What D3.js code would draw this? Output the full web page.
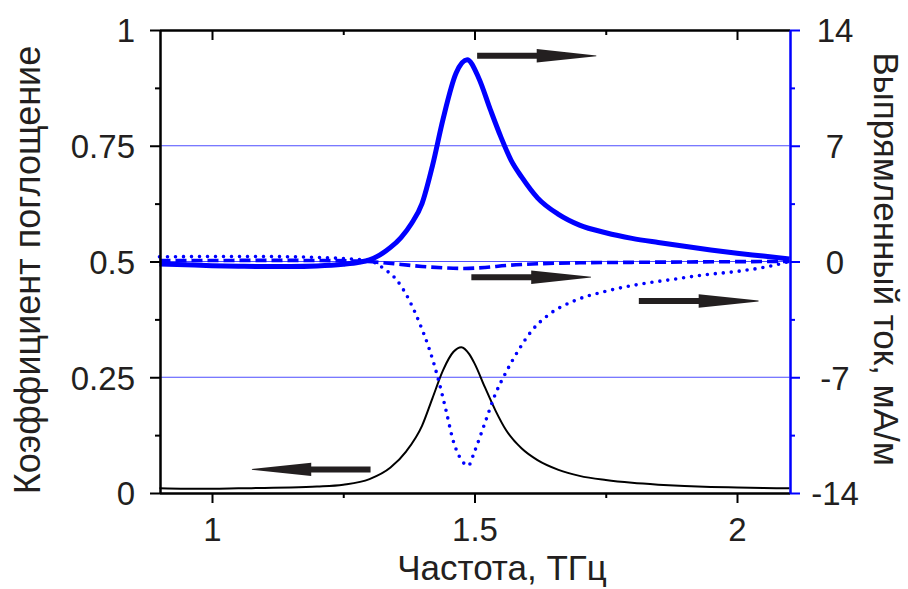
<!DOCTYPE html>
<html>
<head>
<meta charset="utf-8">
<script src="https://cdn.jsdelivr.net/npm/d3@7"></script>
<style>
  html, body { margin: 0; padding: 0; background: #fff; }
  svg { display: block; }
  text { font-family: "Liberation Sans", Arial, sans-serif; fill: #231f20; }
</style>
</head>
<body>
<svg id="chart" width="908" height="589"></svg>
<script>
// ---- Absorption coefficient (left axis) ----
const absFreq  = [0.9, 0.95, 1.0, 1.05, 1.1, 1.15, 1.2, 1.25, 1.3, 1.34, 1.37, 1.40, 1.42, 1.44, 1.46, 1.475,
                  1.49, 1.50, 1.52, 1.54, 1.56, 1.59, 1.62, 1.66, 1.70, 1.75, 1.80, 1.85, 1.90, 1.95, 2.0, 2.05, 2.1];
const absValue = [0.010, 0.009, 0.009, 0.010, 0.011, 0.012, 0.014, 0.018, 0.030, 0.055, 0.09, 0.145, 0.205, 0.265, 0.305, 0.315,
                  0.300, 0.280, 0.228, 0.178, 0.136, 0.096, 0.071, 0.050, 0.037, 0.028, 0.022, 0.018, 0.015, 0.013, 0.012, 0.011, 0.010];

// ---- Rectified current, mA/m (right axis) ----
const solidFreq  = [0.9, 0.95, 1.0, 1.05, 1.1, 1.15, 1.2, 1.25, 1.28, 1.30, 1.32, 1.34, 1.36, 1.38, 1.40, 1.42, 1.44, 1.465, 1.486,
                    1.508, 1.53, 1.55, 1.57, 1.59, 1.62, 1.66, 1.70, 1.75, 1.80, 1.85, 1.90, 1.95, 2.0, 2.05, 2.1];
const solidValue = [-0.15, -0.2, -0.25, -0.28, -0.3, -0.3, -0.27, -0.17, -0.05, 0.1, 0.4, 0.85, 1.45, 2.3, 3.5, 5.8, 8.6, 11.4, 12.2,
                    11.1, 9.2, 7.55, 6.1, 5.1, 3.85, 2.85, 2.2, 1.74, 1.4, 1.15, 0.92, 0.7, 0.5, 0.33, 0.15];

const dashFreq  = [0.9, 1.0, 1.1, 1.2, 1.28, 1.32, 1.36, 1.40, 1.44, 1.48, 1.52, 1.56, 1.62, 1.70, 1.80, 1.90, 2.0, 2.1];
const dashValue = [0.05, 0.06, 0.07, 0.06, 0.02, -0.06, -0.18, -0.3, -0.38, -0.42, -0.36, -0.24, -0.14, -0.08, -0.05, -0.03, -0.01, 0.0];

const dotFreq  = [0.9, 1.0, 1.1, 1.2, 1.26, 1.30, 1.33, 1.35, 1.375, 1.395, 1.415, 1.43, 1.445, 1.46, 1.475, 1.488, 1.50, 1.52, 1.54,
                  1.56, 1.585, 1.61, 1.64, 1.69, 1.75, 1.81, 1.88, 1.94, 2.0, 2.06, 2.1];
const dotValue = [0.28, 0.3, 0.3, 0.25, 0.16, 0.05, -0.5, -1.05, -2.3, -3.7, -5.4, -7.0, -8.9, -10.9, -12.0, -12.35, -11.5, -9.75, -8.0,
                  -6.7, -5.3, -4.15, -3.25, -2.38, -1.8, -1.4, -1.07, -0.8, -0.6, -0.3, 0.0];

// ---- Axis ticks ----
const xMajorTicks = [1, 1.5, 2];
const xMinorTicks = [1.25, 1.75];
const leftMajorTicks = [0, 0.25, 0.5, 0.75, 1];
const leftMinorTicks = [0.125, 0.375, 0.625, 0.875];
const rightMajorTicks = [-14, -7, 0, 7, 14];
const rightMinorTicks = [-10.5, -3.5, 3.5, 10.5];
const gridTicks = [0.25, 0.5, 0.75];

// ---- Direction arrows: frequency span and level on the axis they point to ----
const arrowFrom  = [1.505, 1.494, 1.813, 1.302];
const arrowTo    = [1.732, 1.722, 2.041, 1.076];
const arrowLevel = [12.44, -0.95, -2.39, 0.051];
const arrowAxis  = ["right", "right", "right", "left"];

const svg = d3.select("#chart");
const plotLeft = 159.5, plotRight = 789.5, plotTop = 30, plotBottom = 493;
const blue = "#0000ff", ink = "#231f20";

const x  = d3.scaleLinear().domain([0.9, 2.1]).range([plotLeft, plotRight]);
const yL = d3.scaleLinear().domain([0, 1]).range([plotBottom, plotTop]);
const yR = d3.scaleLinear().domain([-14, 14]).range([plotBottom, plotTop]);

// horizontal guide lines
svg.append("g").selectAll("line").data(gridTicks).join("line")
  .attr("x1", plotLeft).attr("x2", plotRight)
  .attr("y1", d => yL(d)).attr("y2", d => yL(d))
  .attr("stroke", "#4d4dff").attr("stroke-width", 1.2);

// curves
const lineAbs = d3.line().x(d => x(d[0])).y(d => yL(d[1])).curve(d3.curveMonotoneX);
const lineR   = d3.line().x(d => x(d[0])).y(d => yR(d[1])).curve(d3.curveMonotoneX);

svg.append("path").datum(d3.zip(absFreq, absValue))
  .attr("d", lineAbs).attr("fill", "none").attr("stroke", "#000").attr("stroke-width", 2);

svg.append("path").datum(d3.zip(dotFreq, dotValue))
  .attr("d", lineR).attr("fill", "none").attr("stroke", blue)
  .attr("stroke-width", 3.6).attr("stroke-linecap", "round").attr("stroke-dasharray", "0 8");

svg.append("path").datum(d3.zip(dashFreq, dashValue))
  .attr("d", lineR).attr("fill", "none").attr("stroke", blue)
  .attr("stroke-width", 3.6).attr("stroke-dasharray", "11 5");

svg.append("path").datum(d3.zip(solidFreq, solidValue))
  .attr("d", lineR).attr("fill", "none").attr("stroke", blue)
  .attr("stroke-width", 5).attr("stroke-linejoin", "round");

// arrows: shaft then a tapering head
arrowFrom.forEach((f, i) => {
  const yy = arrowAxis[i] === "left" ? yL(arrowLevel[i]) : yR(arrowLevel[i]);
  const x0 = x(f), x1 = x(arrowTo[i]);
  const xm = x0 + (x1 - x0) * 0.5;
  const p = d3.path();
  p.moveTo(x0, yy - 3);
  p.lineTo(xm, yy - 3);
  p.lineTo(xm, yy - 6.7);
  p.lineTo(x1, yy - 0.4);
  p.lineTo(x1, yy + 0.4);
  p.lineTo(xm, yy + 6.7);
  p.lineTo(xm, yy + 3);
  p.lineTo(x0, yy + 3);
  p.closePath();
  svg.append("path").attr("d", p.toString()).attr("fill", ink);
});

// axes
function styleAxis(g, color, width) {
  g.select(".domain").attr("stroke", color).attr("stroke-width", width);
  g.selectAll(".tick line").attr("stroke", color).attr("stroke-width", width);
}
const fmt = d => String(d);

// bottom
const gB = svg.append("g").attr("transform", `translate(0,${plotBottom})`)
  .call(d3.axisBottom(x).tickValues(xMajorTicks).tickSize(10).tickSizeOuter(0).tickFormat(fmt));
styleAxis(gB, "#000", 2);
gB.selectAll("text").attr("y", 48).attr("dy", null).attr("font-size", 33).attr("fill", ink);
const gBm = svg.append("g").attr("transform", `translate(0,${plotBottom})`)
  .call(d3.axisBottom(x).tickValues(xMinorTicks).tickSize(5).tickSizeOuter(0).tickFormat(""));
styleAxis(gBm, "#000", 2);

// top frame with inward ticks
const gT = svg.append("g").attr("transform", `translate(0,${plotTop})`)
  .call(d3.axisBottom(x).tickValues(xMajorTicks).tickSize(10).tickSizeOuter(0).tickFormat(""));
styleAxis(gT, "#000", 2);
const gTm = svg.append("g").attr("transform", `translate(0,${plotTop})`)
  .call(d3.axisBottom(x).tickValues(xMinorTicks).tickSize(5).tickSizeOuter(0).tickFormat(""));
styleAxis(gTm, "#000", 2);

// left
const gL = svg.append("g").attr("transform", `translate(${plotLeft + 0.5},0)`)
  .call(d3.axisLeft(yL).tickValues(leftMajorTicks).tickSize(10).tickSizeOuter(0).tickFormat(fmt));
styleAxis(gL, "#000", 2);
gL.selectAll("text").attr("x", -25).attr("dy", "0.36em").attr("font-size", 33).attr("fill", ink);
const gLm = svg.append("g").attr("transform", `translate(${plotLeft + 0.5},0)`)
  .call(d3.axisLeft(yL).tickValues(leftMinorTicks).tickSize(5).tickSizeOuter(0).tickFormat(""));
styleAxis(gLm, "#000", 2);

// right (blue)
const gR = svg.append("g").attr("transform", `translate(${plotRight + 0.5},0)`)
  .call(d3.axisRight(yR).tickValues(rightMajorTicks).tickSize(10).tickSizeOuter(0).tickFormat(fmt));
styleAxis(gR, blue, 2);
gR.selectAll("text").attr("x", 45).attr("dy", "0.36em").attr("text-anchor", "middle")
  .attr("font-size", 33).attr("fill", ink);
const gRm = svg.append("g").attr("transform", `translate(${plotRight + 0.5},0)`)
  .call(d3.axisRight(yR).tickValues(rightMinorTicks).tickSize(5).tickSizeOuter(0).tickFormat(""));
styleAxis(gRm, blue, 2);

svg.selectAll(".tick text").attr("font-family", "Liberation Sans, Arial, sans-serif");

// axis titles
svg.append("text").attr("x", 502).attr("y", 580).attr("text-anchor", "middle")
  .attr("font-size", 35).text("Частота, ТГц");
svg.append("text").attr("transform", "translate(40,270) rotate(-90)").attr("text-anchor", "middle")
  .attr("font-size", 36).text("Коэффициент поглощение");
svg.append("text").attr("transform", "translate(874,259) rotate(90)").attr("text-anchor", "middle")
  .attr("font-size", 35).text("Выпрямленный ток, мА/м");
</script>
</body>
</html>
